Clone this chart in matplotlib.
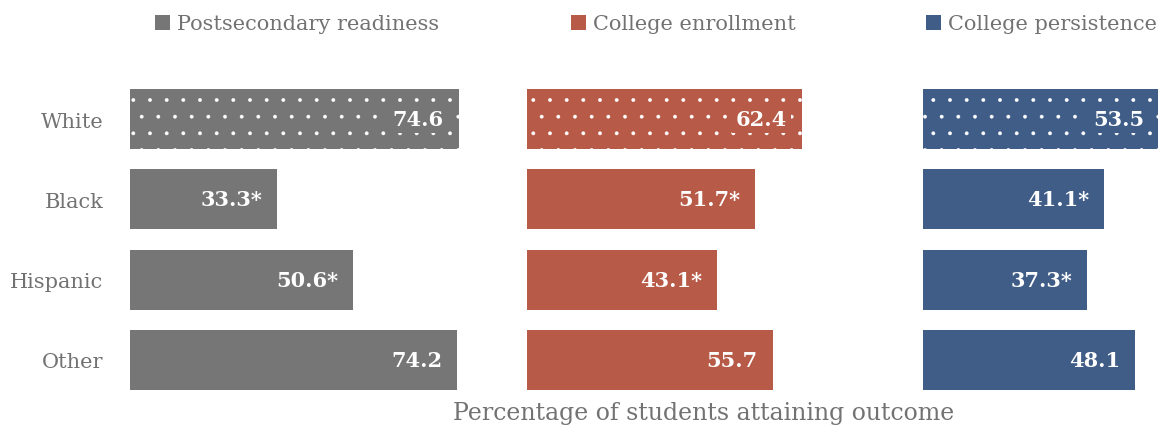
import matplotlib
matplotlib.use('Agg')
import matplotlib.pyplot as plt
from matplotlib.patches import Patch

groups = ['White', 'Black', 'Hispanic', 'Other']
readiness = [74.6, 33.3, 50.6, 74.2]
enrollment = [62.4, 51.7, 43.1, 55.7]
persistence = [53.5, 41.1, 37.3, 48.1]
# * marks a significant difference from White students
significant = [False, True, True, False]

series = [
    ('Postsecondary readiness', readiness, '#767676'),
    ('College enrollment', enrollment, '#b75a48'),
    ('College persistence', persistence, '#405d87'),
]

plt.rcParams['font.family'] = 'DejaVu Serif'
plt.rcParams['hatch.linewidth'] = 0.3
text_gray = '#727272'

W, H = 1158, 431
fig = plt.figure(figsize=(W / 100, H / 100), dpi=100)

px_per_unit = 4.41
lefts = [130, 527, 923]
legend_x = [155, 571, 926]
xmax = [80, 80, (W - 923) / px_per_unit]
bottom_px, top_px = 80, 401   # axis area in pixels from top

for k, (name, vals, color) in enumerate(series):
    width_px = xmax[k] * px_per_unit
    ax = fig.add_axes([lefts[k] / W, 1 - top_px / H, width_px / W, (top_px - bottom_px) / H])
    y = list(range(len(groups)))
    bars = ax.barh(y, vals, height=0.75, color=color, linewidth=0)
    # first bar (White, reference group) is dotted
    bars[0].set_hatch('.')
    bars[0].set_edgecolor('white')
    bars[0].set_linewidth(0)
    ax.set_ylim(3.5, -0.5)
    ax.set_xlim(0, xmax[k])
    for s in ax.spines.values():
        s.set_visible(False)
    ax.set_xticks([])
    ax.tick_params(left=False, length=0)
    if k == 0:
        ax.set_yticks(y)
        ax.set_yticklabels(groups, fontsize=15, color=text_gray)
        ax.tick_params(axis='y', pad=19)
    else:
        ax.set_yticks([])
    if k == 1:
        ax.set_xlabel('Percentage of students attaining outcome', fontsize=17,
                      color=text_gray, labelpad=1)
    for i, v in enumerate(vals):
        lab = f'{v:.1f}' + ('*' if significant[i] else '')
        ax.text(v - 15 / px_per_unit, i, lab, ha='right', va='center',
                color='white', fontsize=15, fontweight='bold',
                bbox=dict(facecolor=color, edgecolor='none', pad=3))

    fig.legend(handles=[Patch(facecolor=color, edgecolor='none')], labels=[name],
               loc='center left', bbox_to_anchor=(legend_x[k] / W, 1 - 25 / H),
               frameon=False, fontsize=15, labelcolor=text_gray,
               handlelength=0.72, handleheight=0.72, handletextpad=0.33,
               borderaxespad=0, borderpad=0)

fig.savefig('out.png', dpi=100)
